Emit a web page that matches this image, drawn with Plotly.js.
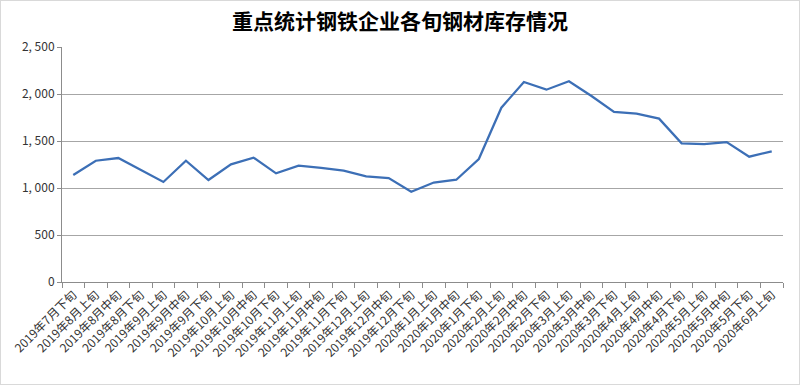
<!DOCTYPE html>
<html>
<head>
<meta charset="utf-8">
<script src="https://cdn.plot.ly/plotly-3.0.1.min.js"></script>
<style>
html,body{margin:0;padding:0;background:#fff;}
#chart{width:798px;height:383px;border:1px solid #d9d9d9;}
</style>
</head>
<body>
<div id="chart"></div>
<script>
const categories = ["2019年7月下旬","2019年8月上旬","2019年8月中旬","2019年8月下旬","2019年9月上旬","2019年9月中旬","2019年9月下旬","2019年10月上旬","2019年10月中旬","2019年10月下旬","2019年11月上旬","2019年11月中旬","2019年11月下旬","2019年12月上旬","2019年12月中旬","2019年12月下旬","2020年1月上旬","2020年1月中旬","2020年1月下旬","2020年2月上旬","2020年2月中旬","2020年2月下旬","2020年3月上旬","2020年3月中旬","2020年3月下旬","2020年4月上旬","2020年4月中旬","2020年4月下旬","2020年5月上旬","2020年5月中旬","2020年5月下旬","2020年6月上旬"];
const inventory = [1138,1290,1319,1191,1064,1290,1085,1252,1323,1156,1237,1213,1184,1124,1106,961,1058,1088,1308,1854,2128,2046,2135,1979,1809,1791,1738,1475,1468,1489,1333,1390];
const yTickVals = [0,500,1000,1500,2000,2500];
const yTickText = ["0","500","1, 000","1, 500","2, 000","2, 500"];
const titleText = "重点统计钢铁企业各旬钢材库存情况";

const trace = {
  type: "scatter",
  mode: "lines",
  x: categories,
  y: inventory,
  line: {color: "#3c6fb6", width: 2.25},
  hoverinfo: "x+y"
};

const layout = {
  width: 798, height: 383,
  margin: {l: 61, r: 16, t: 46, b: 102, pad: 0},
  paper_bgcolor: "#ffffff",
  plot_bgcolor: "#ffffff",
  showlegend: false,
  title: {
    text: "<b>" + titleText + "</b>",
    x: 0.5, xanchor: "center",
    y: 0.945, yanchor: "middle",
    font: {family: "Noto Sans CJK SC", size: 21, color: "#000000"}
  },
  xaxis: {
    type: "category",
    range: [-0.5, categories.length - 0.5],
    tickangle: -45,
    ticks: "outside",
    tickson: "boundaries",
    ticklen: 5,
    tickcolor: "#8c8c8c",
    showline: true,
    linecolor: "#8c8c8c",
    linewidth: 1,
    showgrid: false,
    zeroline: false,
    tickfont: {family: "Noto Sans CJK SC", size: 12, color: "#333333"},
    automargin: false
  },
  yaxis: {
    range: [0, 2500],
    tickvals: yTickVals,
    ticktext: yTickText,
    ticks: "outside",
    ticklen: 4,
    tickcolor: "#8c8c8c",
    showline: true,
    linecolor: "#8c8c8c",
    linewidth: 1,
    showgrid: true,
    gridcolor: "#a6a6a6",
    gridwidth: 1,
    zeroline: false,
    tickfont: {family: "Noto Sans CJK SC", size: 12, color: "#333333"},
    automargin: false
  }
};

Plotly.newPlot("chart", [trace], layout, {displayModeBar: false, staticPlot: true});
</script>
</body>
</html>
